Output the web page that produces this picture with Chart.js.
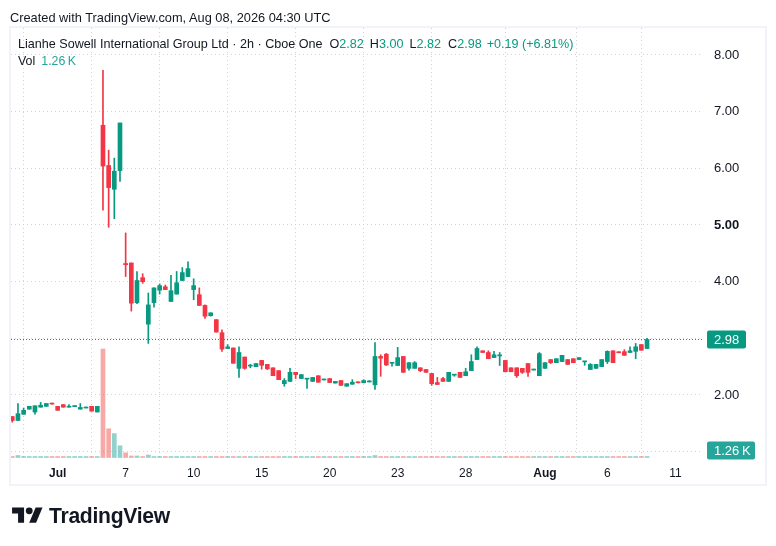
<!DOCTYPE html>
<html>
<head>
<meta charset="utf-8">
<script src="https://cdn.jsdelivr.net/npm/chart.js@4.4.0/dist/chart.umd.min.js"></script>
<style>
html,body{margin:0;padding:0;background:#fff;width:776px;height:546px;overflow:hidden;
  font-family:"Liberation Sans",Arial,sans-serif;color:#131722;}
#wrap{position:relative;width:776px;height:546px;}
#c{position:absolute;left:0;top:0;}
#frame{position:absolute;left:9px;top:26px;width:754px;height:456px;border:2px solid #F0F3FA;}
.txt{position:absolute;white-space:nowrap;font-size:13px;line-height:15px;}
#created{left:10px;top:10px;font-size:12.8px;}
#title{left:18px;top:37px;font-size:12.6px;}
#vol{left:18px;top:54px;font-size:12.4px;}
.g{color:#089981;}
.tg{color:#26a69a;}
.sp{margin-left:6px;}
.m7{margin-left:7px;}
.m6{margin-left:6px;}
.m5{margin-left:5px;}
#logo{position:absolute;left:12px;top:504px;}
#logotxt{position:absolute;left:49px;top:503px;font-size:22px;line-height:26px;font-weight:bold;
  transform:scaleX(0.96);transform-origin:left center;letter-spacing:-0.3px;}
</style>
</head>
<body>
<div id="wrap">
  <div id="frame"></div>
  <canvas id="c" width="776" height="546"></canvas>
  <div class="txt" id="created">Created with TradingView.com, Aug 08, 2026 04:30 UTC</div>
  <div class="txt" id="title"></div>
  <div class="txt" id="vol"></div>
  <svg id="logo" width="31" height="24" viewBox="0 0 36 28">
    <path d="M14 22H7V11H0V4h14v18z" fill="#131722"/>
    <path d="M28 22h-8l7.5-18h8L28 22z" fill="#131722"/>
    <circle cx="20" cy="8" r="4" fill="#131722"/>
  </svg>
  <div id="logotxt">TradingView</div>
</div>
<script>
// ---- data (2h bars, index = bar number) ----
const open = [1.62,1.55,1.66,1.75,1.70,1.785,1.80,1.85,1.80,1.83,1.785,1.795,1.75,1.77,1.80,1.70,
  6.76,6.05,5.63,5.96,4.32,4.33,3.63,4.07,3.25,3.63,3.85,3.91,3.65,3.78,4.02,4.09,3.86,3.77,3.58,3.40,3.33,3.10,2.82,2.83,2.47,2.67,
  2.51,2.50,2.61,2.54,2.48,2.43,2.20,2.24,2.40,2.29,2.28,2.24,2.34,2.265,2.29,2.21,2.255,2.155,2.19,2.225,2.215,2.23,
  2.18,2.68,2.72,2.56,2.52,2.68,2.47,2.47,2.48,2.45,2.38,2.22,2.29,2.24,2.35,2.40,2.34,2.43,2.625,2.78,2.75,2.66,2.69,2.61,2.48,2.48,
  2.47,2.555,2.44,2.34,2.47,2.625,2.57,2.59,2.625,2.64,2.625,2.585,2.45,2.47,2.50,2.59,2.78,2.755,2.765,2.75,2.77,2.89,2.82];
const high = [1.62,1.85,1.77,1.80,1.81,1.87,1.85,1.85,1.80,1.83,1.83,1.80,1.85,1.775,1.80,1.80,
  7.73,6.32,6.18,6.80,4.86,4.33,4.18,4.14,3.80,3.89,3.96,3.94,4.11,4.18,4.25,4.35,4.05,3.89,3.59,3.45,3.33,3.15,2.89,2.83,2.85,2.67,
  2.54,2.555,2.61,2.54,2.48,2.43,2.29,2.47,2.40,2.36,2.29,2.31,2.34,2.27,2.29,2.24,2.255,2.20,2.27,2.225,2.27,2.255,
  2.925,2.71,2.735,2.565,2.84,2.68,2.57,2.59,2.48,2.45,2.38,2.31,2.31,2.40,2.36,2.40,2.47,2.71,2.85,2.78,2.78,2.77,2.75,2.61,2.48,2.48,
  2.47,2.555,2.445,2.75,2.57,2.625,2.64,2.70,2.625,2.64,2.66,2.59,2.555,2.54,2.625,2.78,2.78,2.765,2.80,2.85,2.91,2.89,3.00];
const low = [1.52,1.55,1.66,1.75,1.66,1.785,1.80,1.84,1.73,1.785,1.785,1.795,1.75,1.77,1.715,1.70,
  5.26,4.96,5.11,5.77,4.09,3.48,3.61,3.97,2.91,3.55,3.78,3.86,3.65,3.78,4.02,4.09,3.68,3.58,3.35,3.39,3.11,2.77,2.82,2.56,2.31,2.455,
  2.48,2.50,2.455,2.45,2.34,2.27,2.155,2.24,2.29,2.29,2.115,2.24,2.225,2.265,2.22,2.21,2.17,2.155,2.19,2.215,2.215,2.23,
  2.10,2.33,2.52,2.51,2.52,2.40,2.44,2.47,2.41,2.40,2.17,2.185,2.24,2.24,2.33,2.31,2.34,2.43,2.625,2.75,2.64,2.66,2.52,2.41,2.41,2.31,
  2.38,2.33,2.44,2.34,2.47,2.555,2.57,2.59,2.54,2.57,2.625,2.525,2.45,2.47,2.50,2.555,2.57,2.745,2.70,2.75,2.64,2.79,2.82];
const close = [1.55,1.67,1.73,1.80,1.81,1.82,1.85,1.84,1.73,1.785,1.80,1.80,1.78,1.775,1.715,1.80,
  6.04,5.66,5.95,6.80,4.30,3.62,4.02,4.00,3.59,3.89,3.93,3.86,3.84,3.98,4.16,4.23,3.93,3.58,3.39,3.45,3.11,2.81,2.85,2.56,2.75,2.47,
  2.52,2.555,2.525,2.46,2.34,2.27,2.255,2.40,2.36,2.36,2.29,2.31,2.225,2.27,2.22,2.24,2.17,2.20,2.225,2.215,2.255,2.24,
  2.68,2.65,2.53,2.565,2.66,2.40,2.57,2.57,2.43,2.40,2.20,2.185,2.24,2.40,2.36,2.31,2.41,2.59,2.82,2.75,2.64,2.71,2.70,2.41,2.41,2.34,
  2.40,2.40,2.445,2.73,2.57,2.57,2.64,2.70,2.54,2.57,2.66,2.59,2.54,2.54,2.625,2.77,2.57,2.745,2.70,2.78,2.85,2.79,2.98];
// volume in thousands
const volume = [0.9,2.5,0.8,0.9,0.8,0.9,0.8,1.0,0.9,0.8,0.9,0.8,0.9,0.8,1.0,0.9,
  136,36,30,14.7,5.9,1.9,1.9,1.0,3.1,0.9,0.8,1.0,0.9,0.8,0.9,1.0,0.9,1.1,1.0,0.8,1.0,1.2,0.8,1.1,0.9,1.0,
  0.8,0.8,1.0,0.9,1.0,1.1,0.8,0.9,1.0,0.8,0.9,0.8,1.0,0.8,0.9,0.8,0.9,0.8,0.9,0.8,0.9,0.8,
  2.5,1.3,1.1,0.8,1.2,1.0,0.9,0.8,1.0,0.9,1.1,0.8,0.9,1.0,0.8,0.9,0.8,1.1,1.2,0.9,1.0,0.8,0.9,1.0,0.8,0.9,
  1.0,0.9,0.8,1.2,0.9,0.8,1.0,0.9,0.8,0.9,1.0,0.8,0.9,0.8,1.0,1.1,0.9,0.8,1.0,0.9,1.1,0.9,1.26];
// x-axis tick labels and the bar index at which each date starts
const tickLabels = ['Jul','7','10','15','20','23','28','Aug','6','11'];
const tickBars   = [8,20,32,44,56,68,80,94,105,117];
const boldTicks  = ['Jul','Aug'];
// price axis ticks
const priceTicks = [1,2,3,4,5,6,7,8];
const priceTickLabels = ['', '2.00', '', '4.00', '5.00', '6.00', '7.00', '8.00'];
const boldPriceLabels = ['5.00'];

// ---- styling ----
const UP = '#089981', DOWN = '#F23645';
const VOL_UP = 'rgba(38,166,154,0.5)', VOL_DOWN = 'rgba(239,83,80,0.5)';
const VOL_LABEL = '#26a69a';
const GRID = '#cfd2d9';
const FONT = "'Liberation Sans', Arial, sans-serif";

Chart.defaults.font.family = FONT;
Chart.defaults.font.size = 12;
Chart.defaults.color = '#131722';

const N = close.length;
const last = N - 1;
const idx = close.map((_, i) => i);
const up = close.map((c, i) => c >= open[i]);
const cCol = up.map(u => u ? UP : DOWN);
const vCol = up.map(u => u ? VOL_UP : VOL_DOWN);

// header
const chg = close[last] - close[last - 1];
const pct = chg / close[last - 1] * 100;
const sgn = v => (v >= 0 ? '+' : '') + v.toFixed(2);
document.getElementById('title').innerHTML =
  'Lianhe Sowell International Group Ltd · 2h · Cboe One' +
  '<span class="m7">O</span><span class="g">' + open[last].toFixed(2) + '</span>' +
  '<span class="m6">H</span><span class="g">' + high[last].toFixed(2) + '</span>' +
  '<span class="m6">L</span><span class="g">' + low[last].toFixed(2) + '</span>' +
  '<span class="m7">C</span><span class="g">' + close[last].toFixed(2) + '</span>' +
  '<span class="m5 g">' + sgn(chg) + ' (' + sgn(pct) + '%)</span>';
const volText = volume[last].toFixed(2) + '\u2009K';
document.getElementById('vol').innerHTML = 'Vol<span class="sp tg">' + volText + '</span>';

const overlay = {
  id: 'overlay',
  beforeDatasetsDraw(chart) {
    const {ctx, chartArea: a, scales: {y}} = chart;
    const py = Math.round(y.getPixelForValue(close[last])) + 0.5;
    ctx.save();
    ctx.strokeStyle = UP;
    ctx.lineWidth = 1;
    ctx.setLineDash([1, 2]);
    ctx.beginPath();
    ctx.moveTo(a.left, py);
    ctx.lineTo(a.right, py);
    ctx.stroke();
    ctx.restore();
  },
  afterDraw(chart) {
    const {ctx, chartArea: a, scales: {y, yv}} = chart;
    const box = (cy, w, color, text) => {
      const h = 18, x = a.right + 5;
      ctx.fillStyle = color;
      ctx.beginPath();
      if (ctx.roundRect) ctx.roundRect(x, cy - h / 2, w, h, 2); else ctx.rect(x, cy - h / 2, w, h);
      ctx.fill();
      ctx.fillStyle = '#ffffff';
      ctx.font = '13px ' + FONT;
      ctx.textBaseline = 'middle';
      ctx.textAlign = 'left';
      ctx.fillText(text, a.right + 12, cy + 0.5);
    };
    ctx.save();
    box(y.getPixelForValue(close[last]), 39, UP, close[last].toFixed(2));
    const vy = Math.min(yv.getPixelForValue(volume[last]), a.bottom - 9.5);
    box(vy, 48, VOL_LABEL, volText);
    ctx.restore();
  }
};

new Chart(document.getElementById('c'), {
  type: 'bar',
  data: {
    datasets: [
      { label: 'body', data: idx.map(i => ({x: i, y: [open[i], close[i]]})),
        backgroundColor: cCol, barThickness: 4, minBarLength: 1, grouped: false, yAxisID: 'y', order: 1 },
      { label: 'wick', data: idx.map(i => ({x: i, y: [low[i], high[i]]})),
        backgroundColor: cCol, barThickness: 1, minBarLength: 1, grouped: false, yAxisID: 'y', order: 2 },
      { label: 'volume', data: idx.map(i => ({x: i, y: volume[i]})),
        backgroundColor: vCol, barThickness: 4, minBarLength: 1, grouped: false, yAxisID: 'yv', order: 3 }
    ]
  },
  options: {
    responsive: false,
    animation: false,
    events: [],
    layout: { padding: { left: 11, top: 28, right: 11, bottom: 60 } },
    plugins: { legend: { display: false }, tooltip: { enabled: false } },
    scales: {
      x: {
        type: 'linear', min: -0.23, max: 121.7, offset: false,
        grid: { color: GRID, drawTicks: false },
        border: { display: false, dash: [1, 3] },
        ticks: {
          autoSkip: false, maxRotation: 0, padding: 6, color: '#131722',
          font: ctx => ({ family: FONT, size: 12,
            weight: boldTicks.includes(tickLabels[ctx.index]) ? 'bold' : 'normal' }),
          callback: (v, i) => tickLabels[i]
        },
        afterBuildTicks: s => { s.ticks = tickBars.map(v => ({ value: v })); },
        afterFit: s => { s.height = 26; }
      },
      y: {
        type: 'linear', position: 'right', min: 0.853, max: 8.476,
        grid: { color: GRID, drawTicks: false },
        border: { display: false, dash: [1, 3] },
        ticks: {
          padding: 12, color: '#131722',
          font: ctx => ({ family: FONT, size: 13,
            weight: boldPriceLabels.includes(priceTickLabels[ctx.index]) ? 'bold' : 'normal' }),
          callback: (v, i) => priceTickLabels[i]
        },
        afterBuildTicks: s => { s.ticks = priceTicks.map(v => ({ value: v })); },
        afterFit: s => { s.width = 63; }
      },
      yv: { type: 'linear', display: false, min: -3.13, max: 538.4 }
    }
  },
  plugins: [overlay]
});
</script>
</body>
</html>
